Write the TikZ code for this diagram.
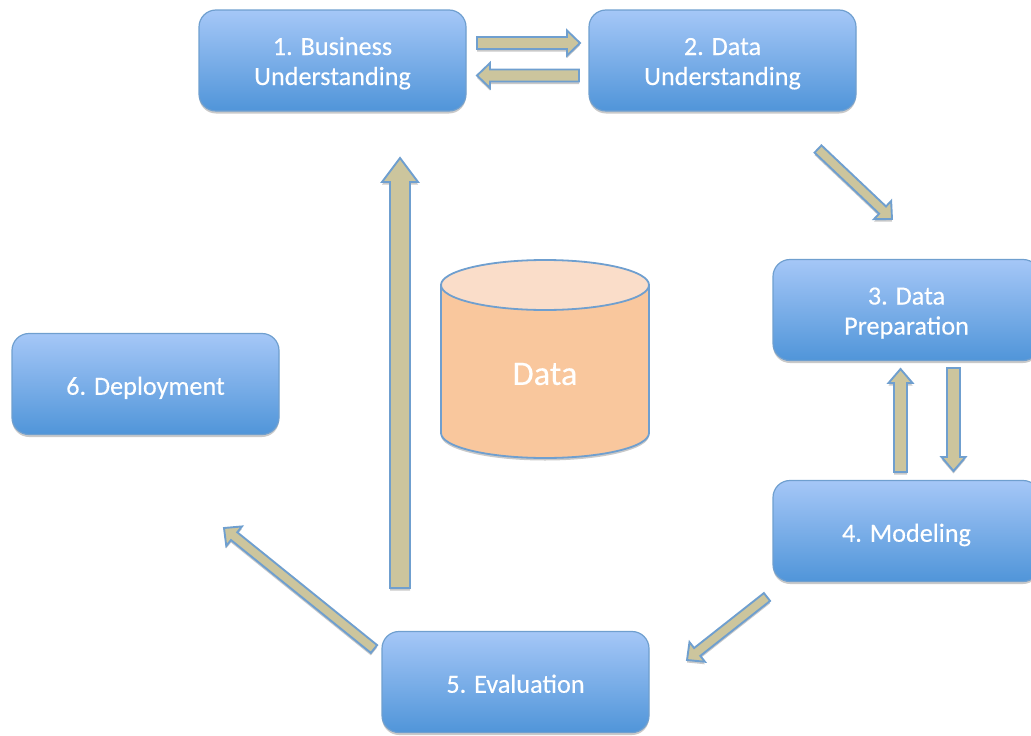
\documentclass[tikz,border=0pt]{standalone}
\usepackage{fontspec}
\setmainfont{Carlito}[FakeBold=0.25]
\usetikzlibrary{calc,shadows}
\definecolor{boxtop}{HTML}{A5C7F7}
\definecolor{boxbottom}{HTML}{5095D9}
\definecolor{edgeblue}{HTML}{6F9FCF}
\definecolor{arrowfill}{HTML}{CCC59D}
\definecolor{drumside}{HTML}{F9C79D}
\definecolor{drumtop}{HTML}{FADDC9}
\tikzset{
    softshadow/.style={drop shadow={shadow xshift=0pt,shadow yshift=-2.5pt,opacity=.3,fill=black!70}},
    stage/.style={draw=edgeblue, line width=1.2pt, rounded corners=17pt, top color=boxtop, bottom color=boxbottom,
        minimum width=267pt, minimum height=101pt, align=center, text=white, softshadow,
        font=\fontsize{26.2}{30}\selectfont, execute at begin node={\rule[-6pt]{0pt}{33.5pt}}},
    twolines/.style={execute at begin node={\rule[-6pt]{0pt}{61pt}}},
    blockarrow/.style n args={3}{draw=edgeblue, line width=1.9pt, fill=arrowfill, line join=miter, softshadow,
        to path={($(\tikztostart)!#1!90:(\tikztotarget)$)
            -- ($(\tikztotarget)!#3!(\tikztostart)!#1!90:(\tikztotarget)$)
            -- ($(\tikztotarget)!#3!(\tikztostart)!#2!90:(\tikztotarget)$)
            -- (\tikztotarget)
            -- ($(\tikztotarget)!#3!(\tikztostart)!#2!-90:(\tikztotarget)$)
            -- ($(\tikztotarget)!#3!(\tikztostart)!#1!-90:(\tikztotarget)$)
            -- ($(\tikztostart)!#1!-90:(\tikztotarget)$) -- cycle}},
}
\begin{document}
\begin{tikzpicture}[x=1pt, y=-1pt]
\useasboundingbox (0,0) rectangle (1031,736);
\clip (0,0) rectangle (1031,736);

\node[stage, twolines] (business) at (332.5,60.5) {1. Business\\Understanding};
\node[stage, twolines] (understanding) at (722.5,60.5) {2. Data\\Understanding};
\node[stage, twolines] (preparation) at (906.5,310) {3. Data\\Preparation};
\node[stage] (modeling) at (906.5,531) {4. Modeling};
\node[stage] (evaluation) at (515.5,682) {5. Evaluation};
\node[stage] (deployment) at (145.5,384) {6. Deployment};

% data store
\draw[edgeblue, line width=1.8pt, fill=drumside, softshadow] (441,285) -- (441,433)
    arc[start angle=180, end angle=0, x radius=104, y radius=25] -- (649,285) -- cycle;
\draw[edgeblue, line width=1.8pt, fill=drumtop] (545,285) ellipse (104 and 25);
\node[text=white, font=\fontsize{34.4}{38}\selectfont] (data) at (545,374) {Data};

% arrow ends
\coordinate (a1) at (477,43);   \coordinate (a2) at (580,43);
\coordinate (b1) at (579,75.5); \coordinate (b2) at (477,75.5);
\coordinate (c1) at (818,149);  \coordinate (c2) at (892,219);
\coordinate (d1) at (900.5,472);\coordinate (d2) at (900.5,369);
\coordinate (e1) at (953.5,368);\coordinate (e2) at (953.5,471);
\coordinate (f1) at (767,597);  \coordinate (f2) at (687,660);
\coordinate (g1) at (374,649);  \coordinate (g2) at (224,528);
\coordinate (h1) at (400,588);  \coordinate (h2) at (400,158);

\foreach \s/\t in {a1/a2, b1/b2}
    \draw[blockarrow={6pt}{12.5pt}{13pt}] (\s) to (\t);
\foreach \s/\t in {c1/c2, f1/f2, g1/g2}
    \draw[blockarrow={5pt}{12.5pt}{13pt}] (\s) to (\t);
\foreach \s/\t in {d1/d2, e1/e2}
    \draw[blockarrow={6.5pt}{12pt}{14pt}] (\s) to (\t);
\draw[blockarrow={10pt}{18pt}{24pt}] (h1) to (h2);
\end{tikzpicture}
\end{document}
